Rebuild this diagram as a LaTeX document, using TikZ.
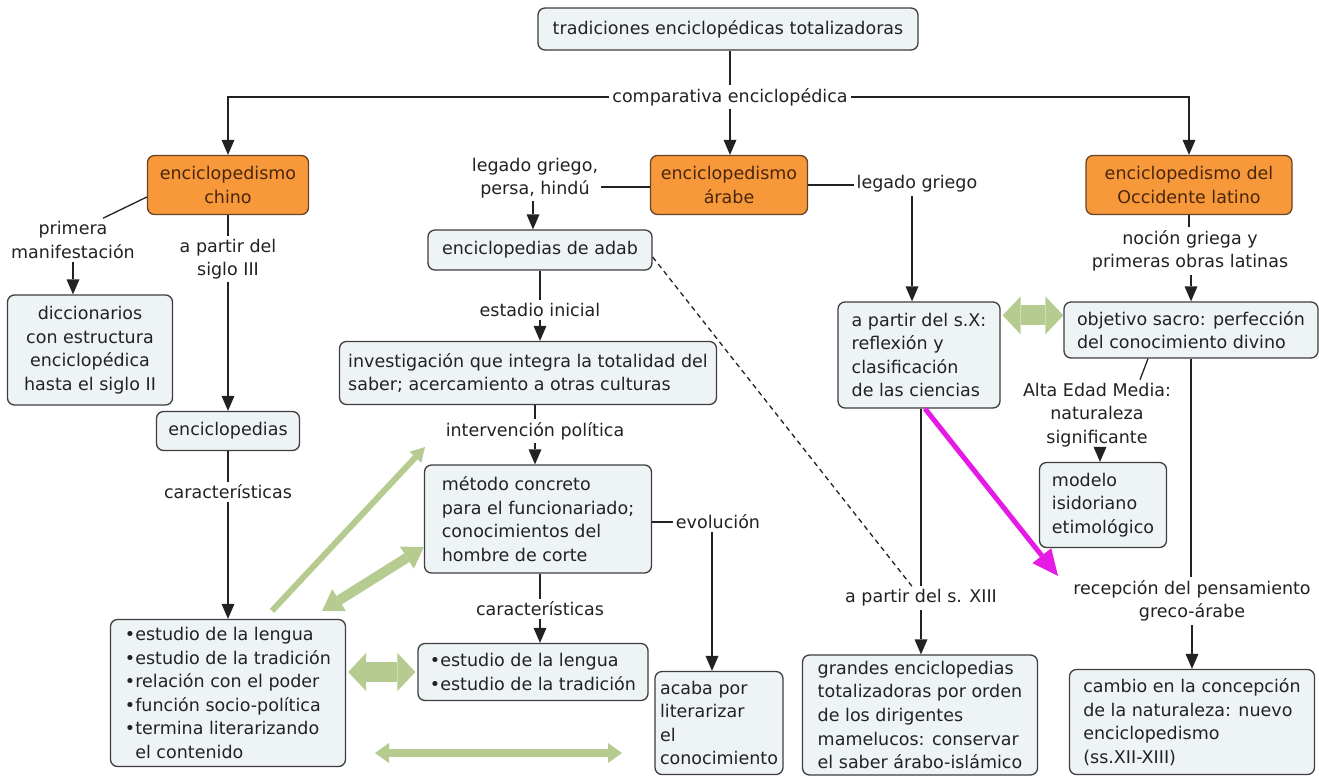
\documentclass[tikz,border=0pt]{standalone}
\usepackage{fontspec}
\setmainfont{DejaVu Sans}
\usetikzlibrary{arrows.meta}
\definecolor{boxfill}{HTML}{EEF3F5}
\definecolor{boxline}{HTML}{3E3E3E}
\definecolor{orfill}{HTML}{F7993B}
\definecolor{orline}{HTML}{6A4326}
\definecolor{ortext}{HTML}{4A260C}
\definecolor{leaf}{HTML}{B5CB8F}
\definecolor{mag}{HTML}{E51AE5}
\definecolor{ink}{HTML}{222222}
\begin{document}
\begin{tikzpicture}[x=1pt,y=-1pt,
  every node/.style={font=\fontsize{17.5}{23.6}\selectfont, text=ink},
  concept/.style={draw=boxline, fill=boxfill, line width=1.3pt, rounded corners=7pt,
    inner sep=0pt, align=center},
  leftconcept/.style={concept, align=left},
  theme/.style={concept, draw=orline, fill=orfill, text=ortext},
  lbl/.style={inner sep=3pt, align=center},
  link/.style={draw=ink, line width=1.3pt},
  arr/.style={link, -{Triangle[width=13pt,length=15pt,line width=0pt]}},
  fat/.style={draw=leaf, line width=20pt,
    {Triangle[width=38pt,length=18pt,line width=0pt]}-{Triangle[width=38pt,length=18pt,line width=0pt]}},
  midfat/.style={draw=leaf, line width=10pt,
    {Triangle[width=26pt,length=20pt,line width=0pt]}-{Triangle[width=26pt,length=20pt,line width=0pt]}},
  slim/.style={draw=leaf, line width=8pt,
    {Triangle[width=20pt,length=14pt,line width=0pt]}-{Triangle[width=20pt,length=14pt,line width=0pt]}},
  thinleaf/.style={draw=leaf, line width=6pt, -{Triangle[width=16pt,length=14pt,line width=0pt]}},
  hot/.style={draw=mag, line width=5pt, -{Triangle[width=24pt,length=26pt,line width=0pt]}},
  weak/.style={draw=ink, line width=1.3pt, dash pattern=on 5pt off 4pt}
]
\useasboundingbox (0,0) rectangle (1319,777);
\fill[white] (0,0) rectangle (1319,777);

% concepts
\node[concept, minimum width=380pt, minimum height=42pt] (top) at (728,29) {tradiciones enciclopédicas totalizadoras};
\node[theme, minimum width=161pt, minimum height=59pt] (chino) at (228,185) {enciclopedismo\\chino};
\node[theme, minimum width=157pt, minimum height=59pt] (arabe) at (729,185) {enciclopedismo\\árabe};
\node[theme, minimum width=206pt, minimum height=59pt] (occ) at (1189,185) {enciclopedismo del\\Occidente latino};
\node[concept, minimum width=165pt, minimum height=110pt] (dicc) at (90,350) {diccionarios\\con estructura\\enciclopédica\\hasta el siglo II};
\node[concept, minimum width=143pt, minimum height=39pt] (encic) at (228,431) {enciclopedias};
\node[leftconcept, minimum width=235pt, minimum height=147pt] (bul) at (228,693)
  {•estudio de la lengua\\•estudio de la tradición\\•relación con el poder\\•función socio-política\\•termina literarizando\\\phantom{•}el contenido};
\node[concept, minimum width=224pt, minimum height=40pt] (adab) at (540,250) {enciclopedias de adab};
\node[leftconcept, minimum width=377pt, minimum height=63pt] (inv) at (528,373)
  {investigación que integra la totalidad del\\saber; acercamiento a otras culturas};
\node[leftconcept, minimum width=227pt, minimum height=108pt] (met) at (538,519)
  {método concreto\\para el funcionariado;\\conocimientos del\\hombre de corte};
\node[leftconcept, minimum width=230pt, minimum height=57pt] (est) at (533,672)
  {•estudio de la lengua\\•estudio de la tradición};
\node[leftconcept, minimum width=128pt, minimum height=103pt] (acaba) at (719,723)
  {acaba por\\literarizar\\el\\conocimiento};
\node[leftconcept, minimum width=162pt, minimum height=106pt] (sx) at (919,355)
  {a partir del s.X:\\reflexión y\\clasificación\\de las ciencias};
\node[leftconcept, minimum width=235pt, minimum height=120pt] (grandes) at (920,715)
  {grandes enciclopedias\\totalizadoras por orden\\de los dirigentes\\mamelucos: conservar\\el saber árabo-islámico};
\node[leftconcept, minimum width=254pt, minimum height=56pt] (obj) at (1191,330)
  {objetivo sacro: perfección\\del conocimiento divino};
\node[leftconcept, minimum width=127pt, minimum height=85pt] (modelo) at (1103,505)
  {modelo\\isidoriano\\etimológico};
\node[leftconcept, minimum width=245pt, minimum height=105pt] (cambio) at (1192,722)
  {cambio en la concepción\\de la naturaleza: nuevo\\enciclopedismo\\(ss.XII-XIII)};

% linking phrases
\node[lbl] (comp) at (730,97) {comparativa enciclopédica};
\node[lbl] (prim) at (73,240) {primera\\manifestación};
\node[lbl] (apsiglo) at (228,259) {a partir del\\siglo III};
\node[lbl] (car1) at (228,492) {características};
\node[lbl] (lgph) at (535,178) {legado griego,\\persa, hindú};
\node[lbl] (estadio) at (540,310) {estadio inicial};
\node[lbl] (interv) at (535,431) {intervención política};
\node[lbl] (evol) at (718,522) {evolución};
\node[lbl] (car2) at (540,609) {características};
\node[lbl] (lgr) at (917,184) {legado griego};
\node[lbl] (xiii) at (921,598) {a partir del s. XIII};
\node[lbl] (nocion) at (1190,251) {noción griega y\\primeras obras latinas};
\node[lbl] (alta) at (1097,415) {Alta Edad Media:\\naturaleza\\significante};
\node[lbl] (recep) at (1192,601) {recepción del pensamiento\\greco-árabe};

% free ends of the green links
\coordinate (gpol) at (425,447);
\coordinate (gl) at (375,753);
\coordinate (gr) at (622,753);
\coordinate (hotend) at (1058,576);

% connectors
\draw[link] (comp.north |- top.south) -- (comp.north);
\draw[arr] (comp.west) -| (chino.north);
\draw[arr] (comp.east) -| (occ.north);
\draw[arr] (comp.south) -- (comp.south |- arabe.north);

\draw[link] ([yshift=-12pt]chino.west) -- ([xshift=30pt]prim.north);
\draw[arr] (prim.south) -- (prim.south |- dicc.north);
\draw[link] (chino.south) -- (apsiglo.north);
\draw[arr] (apsiglo.south) -- (encic.north);
\draw[link] (encic.south) -- (car1.north);
\draw[arr] (car1.south) -- (bul.north);

\draw[link] ([yshift=-2pt]arabe.west) -- ([yshift=-2pt]arabe.west -| lgph.east);
\draw[arr] ([xshift=-2pt]lgph.south) -- ([xshift=-2pt]lgph.south |- adab.north);
\draw[link] (adab.south) -- (estadio.north);
\draw[arr] (estadio.south) -- (inv.north -| estadio.south);
\draw[link] (inv.south -| interv.north) -- (interv.north);
\draw[arr] (interv.south) -- (interv.south |- met.north);
\draw[link] (met.east |- evol.west) -- (evol.west);
\draw[arr] ([xshift=-6pt]evol.south) -- ([xshift=-6pt]evol.south |- acaba.north);
\draw[link] (met.south -| car2.north) -- (car2.north);
\draw[arr] (car2.south) -- (car2.south |- est.north);

\draw[link] (arabe.east) -- (arabe.east -| lgr.west);
\draw[arr] ([xshift=-5pt]lgr.south) -- ([xshift=-5pt]lgr.south |- sx.north);
\draw[link] (sx.south -| xiii.north) -- (xiii.north);
\draw[arr] (xiii.south) -- (xiii.south |- grandes.north);
\draw[weak] ([yshift=-7pt]adab.east) -- ([xshift=-9pt]xiii.north);

\draw[link] (occ.south) -- (occ.south |- nocion.north);
\draw[arr] (nocion.south -| obj.north) -- (obj.north);
\draw[link] ([xshift=-43pt]obj.south) -- ([xshift=43pt]alta.north);
\draw[arr] ([xshift=3pt]alta.south) -- ([xshift=3pt]alta.south |- modelo.north);
\draw[link] (obj.south) -- (obj.south |- recep.north);
\draw[arr] (recep.south) -- (recep.south |- cambio.north);

% highlighted relations
\draw[hot] ([xshift=6pt]sx.south) -- (hotend);
\draw[fat] ([xshift=2pt,yshift=-14pt]sx.north east) -- ([yshift=-14pt]sx.north east -| obj.west);
\draw[fat] ([xshift=2pt]bul.east |- est.west) -- ([xshift=-2pt]est.west);
\draw[midfat] ([xshift=-24pt,yshift=8pt]bul.north east) -- ([yshift=-28pt]met.west);
\draw[thinleaf] ([xshift=44pt,yshift=8pt]bul.north) -- (gpol);
\draw[slim] (gl) -- (gr);
\end{tikzpicture}
\end{document}
